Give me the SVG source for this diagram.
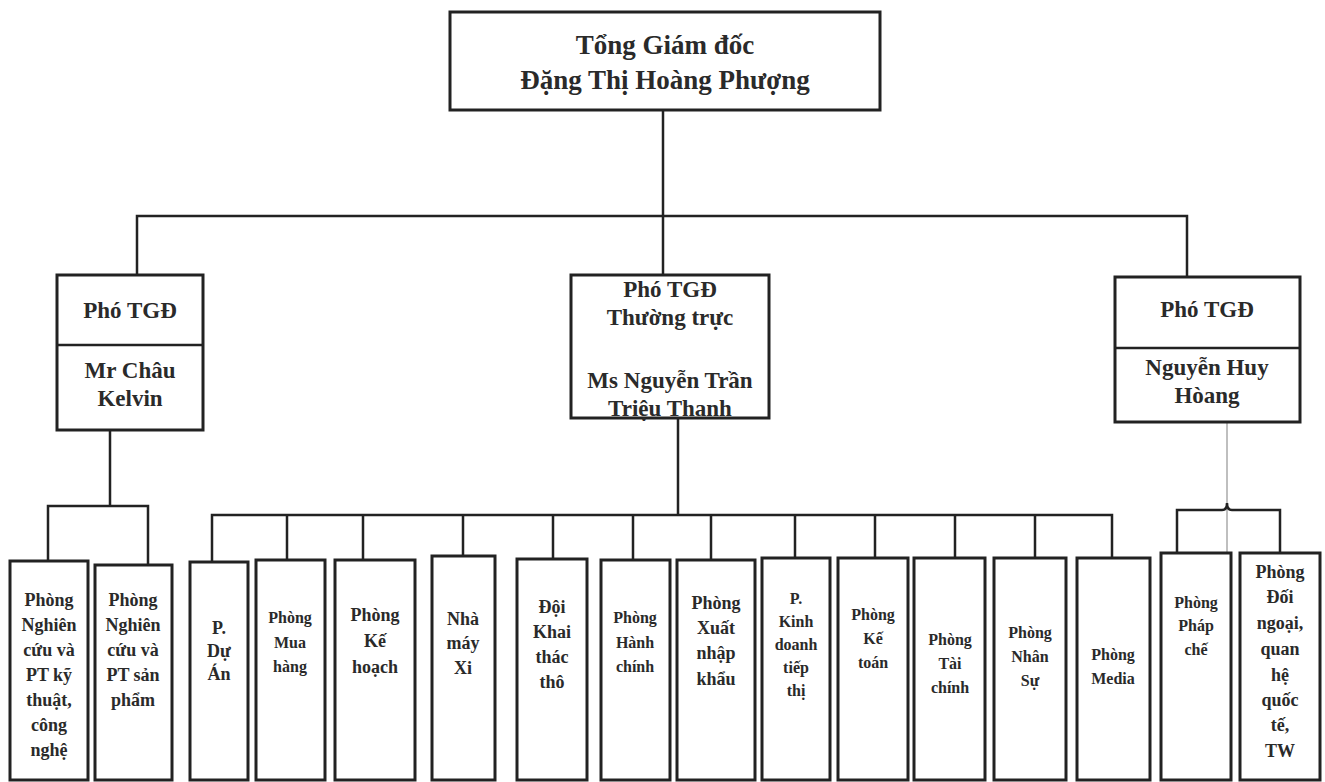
<svg xmlns="http://www.w3.org/2000/svg" width="1325" height="782" viewBox="0 0 1325 782">
<style>
.bx{fill:#fff;stroke:#222;stroke-width:3}
.ln{fill:none;stroke:#222;stroke-width:2.5}
.gl{fill:none;stroke:#aaa;stroke-width:1.5}
text{font-family:"Liberation Serif","Times New Roman",serif;font-weight:bold;fill:#2a2a2a;text-anchor:middle}
.t1{font-size:27px}
.t2{font-size:23px}
.t3{font-size:18px}
.t4{font-size:16px}
</style>
<rect width="1325" height="782" fill="#fff"/>
<g id="connectors">
<path class="ln" d="M663 110V275"/>
<path class="ln" d="M137 275V216H1187V277"/>
<path class="ln" d="M110 430V506M48 561V506H148V565"/>
<path class="ln" d="M678 418V515M212 562V515H1112V558"/>
<path class="ln" d="M287 515V560M363 515V560M463 515V556M553 515V559M633 515V560M711 515V560M795 515V558M875 515V558M955 515V558M1035 515V558"/>
<path class="gl" d="M1227 422V553"/>
<path class="ln" d="M1177 553V510H1222Q1227 510 1227 503Q1227 510 1232 510H1280V553"/>
</g>
<g id="ceo">
<rect class="bx" x="450" y="12" width="430" height="98"/>
<text class="t1" x="665" y="54">Tổng Giám đốc</text>
<text class="t1" x="665" y="89">Đặng Thị Hoàng Phượng</text>
</g>
<g id="vp-left">
<rect class="bx" x="57" y="275" width="146" height="155"/>
<path class="ln" d="M57 345H203"/>
<text class="t2" x="130" y="318">Phó TGĐ</text>
<text class="t2" x="130" y="378">Mr Châu</text>
<text class="t2" x="130" y="406">Kelvin</text>
</g>
<g id="vp-mid">
<rect class="bx" x="571" y="275" width="198" height="143"/>
<text class="t2" x="670" y="297">Phó TGĐ</text>
<text class="t2" x="670" y="325">Thường trực</text>
<text class="t2" x="670" y="388">Ms Nguyễn Trần</text>
<text class="t2" x="670" y="416">Triệu Thanh</text>
</g>
<g id="vp-right">
<rect class="bx" x="1115" y="277" width="185" height="145"/>
<path class="ln" d="M1115 348H1300"/>
<text class="t2" x="1207" y="317">Phó TGĐ</text>
<text class="t2" x="1207" y="375">Nguyễn Huy</text>
<text class="t2" x="1207" y="403">Hòang</text>
</g>
<g id="d1">
<rect class="bx" x="10" y="561" width="78" height="219"/>
<text class="t3" x="49" y="606">Phòng</text><text class="t3" x="49" y="631">Nghiên</text><text class="t3" x="49" y="656">cứu và</text><text class="t3" x="49" y="681">PT kỹ</text><text class="t3" x="49" y="706">thuật,</text><text class="t3" x="49" y="731">công</text><text class="t3" x="49" y="756">nghệ</text>
</g>
<g id="d2">
<rect class="bx" x="95" y="565" width="77" height="215"/>
<text class="t3" x="133" y="606">Phòng</text><text class="t3" x="133" y="631">Nghiên</text><text class="t3" x="133" y="656">cứu và</text><text class="t3" x="133" y="681">PT sản</text><text class="t3" x="133" y="706">phẩm</text>
</g>
<g id="d3">
<rect class="bx" x="190" y="562" width="58" height="218"/>
<text class="t3" x="219" y="634">P.</text><text class="t3" x="219" y="657">Dự</text><text class="t3" x="219" y="680">Án</text>
</g>
<g id="d4">
<rect class="bx" x="256" y="560" width="69" height="220"/>
<text class="t4" x="290" y="623">Phòng</text><text class="t4" x="290" y="648">Mua</text><text class="t4" x="290" y="672">hàng</text>
</g>
<g id="d5">
<rect class="bx" x="335" y="560" width="80" height="220"/>
<text class="t3" x="375" y="621">Phòng</text><text class="t3" x="375" y="647">Kế</text><text class="t3" x="375" y="673">hoạch</text>
</g>
<g id="d6">
<rect class="bx" x="432" y="556" width="63" height="224"/>
<text class="t3" x="463" y="625">Nhà</text><text class="t3" x="463" y="649">máy</text><text class="t3" x="463" y="674">Xi</text>
</g>
<g id="d7">
<rect class="bx" x="517" y="559" width="70" height="221"/>
<text class="t3" x="552" y="613">Đội</text><text class="t3" x="552" y="638">Khai</text><text class="t3" x="552" y="663">thác</text><text class="t3" x="552" y="688">thô</text>
</g>
<g id="d8">
<rect class="bx" x="601" y="560" width="69" height="220"/>
<text class="t4" x="635" y="623">Phòng</text><text class="t4" x="635" y="648">Hành</text><text class="t4" x="635" y="672">chính</text>
</g>
<g id="d9">
<rect class="bx" x="677" y="560" width="78" height="220"/>
<text class="t3" x="716" y="609">Phòng</text><text class="t3" x="716" y="634">Xuất</text><text class="t3" x="716" y="659">nhập</text><text class="t3" x="716" y="685">khẩu</text>
</g>
<g id="d10">
<rect class="bx" x="762" y="558" width="68" height="222"/>
<text class="t4" x="796" y="604">P.</text><text class="t4" x="796" y="627">Kinh</text><text class="t4" x="796" y="650">doanh</text><text class="t4" x="796" y="673">tiếp</text><text class="t4" x="796" y="696">thị</text>
</g>
<g id="d11">
<rect class="bx" x="838" y="558" width="70" height="222"/>
<text class="t4" x="873" y="620">Phòng</text><text class="t4" x="873" y="644">Kế</text><text class="t4" x="873" y="668">toán</text>
</g>
<g id="d12">
<rect class="bx" x="914" y="558" width="71" height="222"/>
<text class="t4" x="950" y="645">Phòng</text><text class="t4" x="950" y="669">Tài</text><text class="t4" x="950" y="693">chính</text>
</g>
<g id="d13">
<rect class="bx" x="994" y="558" width="72" height="222"/>
<text class="t4" x="1030" y="638">Phòng</text><text class="t4" x="1030" y="662">Nhân</text><text class="t4" x="1030" y="686">Sự</text>
</g>
<g id="d14">
<rect class="bx" x="1077" y="558" width="73" height="222"/>
<text class="t4" x="1113" y="660">Phòng</text><text class="t4" x="1113" y="684">Media</text>
</g>
<g id="d15">
<rect class="bx" x="1161" y="553" width="70" height="227"/>
<text class="t4" x="1196" y="608">Phòng</text><text class="t4" x="1196" y="631">Pháp</text><text class="t4" x="1196" y="655">chế</text>
</g>
<g id="d16">
<rect class="bx" x="1240" y="553" width="80" height="227"/>
<text class="t3" x="1280" y="578">Phòng</text><text class="t3" x="1280" y="603">Đối</text><text class="t3" x="1280" y="629">ngoại,</text><text class="t3" x="1280" y="655">quan</text><text class="t3" x="1280" y="681">hệ</text><text class="t3" x="1280" y="706">quốc</text><text class="t3" x="1280" y="731">tế,</text><text class="t3" x="1280" y="757">TW</text>
</g>
</svg>
